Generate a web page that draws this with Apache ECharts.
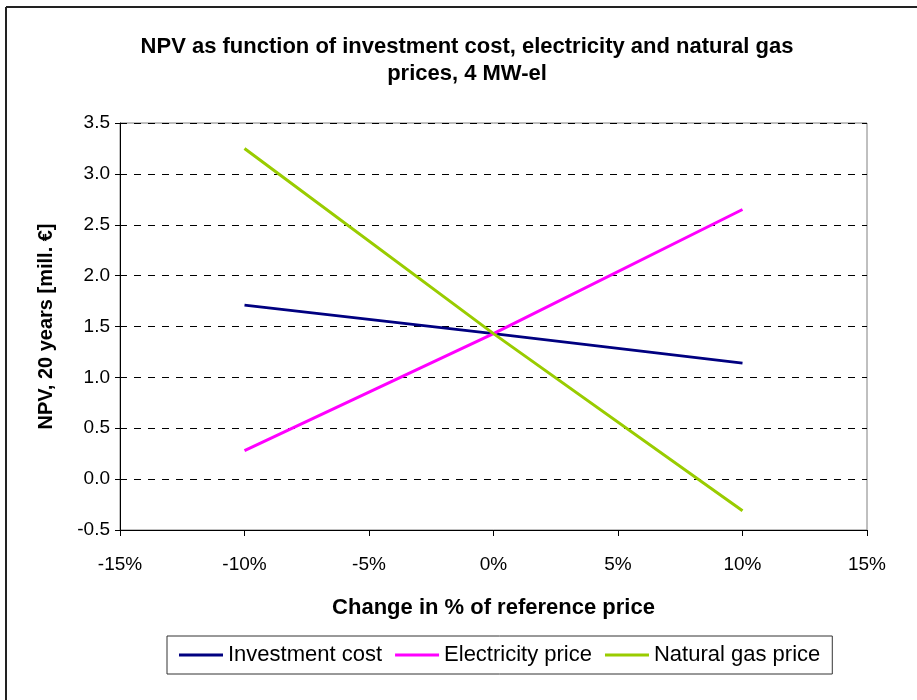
<!DOCTYPE html>
<html>
<head>
<meta charset="utf-8">
<script src="https://cdn.jsdelivr.net/npm/echarts@6/dist/echarts.min.js"></script>
<style>
  html, body { margin: 0; padding: 0; background: #fff; }
  #chart { width: 917px; height: 700px; }
</style>
</head>
<body>
<div id="chart"></div>
<script>
// values
var changePct = [-10, 0, 10];
var investmentCost = [1.71, 1.43, 1.14];
var electricityPrice = [0.28, 1.43, 2.65];
var naturalGasPrice = [3.25, 1.43, -0.31];
var seriesNames = ['Investment cost', 'Electricity price', 'Natural gas price'];
var seriesColors = ['#000080', '#FF00FF', '#99CC00'];

function pairs(xs, ys) {
    return xs.map(function (x, i) { return [x, ys[i]]; });
}

var myChart = echarts.init(document.getElementById('chart'));
var fontName = 'Liberation Sans, Arial, sans-serif';

var option = {
    backgroundColor: '#fff',
    animation: false,
    title: {
        text: 'NPV as function of investment cost, electricity and natural gas\nprices, 4 MW-el',
        left: 462,
        textAlign: 'center',
        top: 28,
        textStyle: { fontFamily: fontName, fontWeight: 'bold', fontSize: 22, lineHeight: 27, color: '#000' }
    },
    graphic: [
        { type: 'line', shape: { x1: 6, y1: 7, x2: 6, y2: 700 }, style: { stroke: '#222', lineWidth: 2 } },
        { type: 'line', shape: { x1: 6, y1: 7, x2: 917, y2: 7 }, style: { stroke: '#222', lineWidth: 2 } }
    ],
    legend: {
        data: seriesNames,
        left: 167,
        top: 636,
        padding: [8, 12, 8, 12],
        borderColor: '#333',
        borderWidth: 1,
        borderRadius: 0,
        itemWidth: 44,
        itemHeight: 3,
        itemGap: 13,
        icon: 'rect',
        textStyle: { fontFamily: fontName, fontSize: 22, color: '#000' }
    },
    grid: {
        left: 120,
        right: 50,
        top: 123,
        bottom: 170,
        show: true,
        borderColor: '#808080',
        borderWidth: 1
    },
    xAxis: {
        type: 'value',
        min: -15,
        max: 15,
        interval: 5,
        name: 'Change in % of reference price',
        nameLocation: 'middle',
        nameGap: 67,
        nameTextStyle: { fontFamily: fontName, fontWeight: 'bold', fontSize: 22, color: '#000' },
        axisLine: { onZero: false, lineStyle: { color: '#000', width: 1 } },
        axisTick: { show: true, inside: false, length: 6, lineStyle: { color: '#000' } },
        axisLabel: { formatter: '{value}%', fontFamily: fontName, fontSize: 19, color: '#000', margin: 25 },
        splitLine: { show: false }
    },
    yAxis: {
        type: 'value',
        min: -0.5,
        max: 3.5,
        interval: 0.5,
        name: 'NPV, 20 years [mill. \u20ac]',
        nameLocation: 'middle',
        nameGap: 64,
        nameTextStyle: { fontFamily: fontName, fontWeight: 'bold', fontSize: 20, color: '#000' },
        axisLine: { show: true, onZero: false, lineStyle: { color: '#000', width: 1 } },
        axisTick: { show: true, inside: false, length: 5, lineStyle: { color: '#000' } },
        axisLabel: {
            formatter: function (v) { return v.toFixed(1); },
            fontFamily: fontName, fontSize: 19, color: '#000', margin: 10
        },
        splitLine: { show: true, lineStyle: { color: '#000', width: 1, type: [7, 7] } }
    },
    series: [
        {
            name: seriesNames[0], type: 'line', symbol: 'none',
            lineStyle: { color: seriesColors[0], width: 3 },
            itemStyle: { color: seriesColors[0] },
            data: pairs(changePct, investmentCost)
        },
        {
            name: seriesNames[1], type: 'line', symbol: 'none',
            lineStyle: { color: seriesColors[1], width: 3 },
            itemStyle: { color: seriesColors[1] },
            data: pairs(changePct, electricityPrice)
        },
        {
            name: seriesNames[2], type: 'line', symbol: 'none',
            lineStyle: { color: seriesColors[2], width: 3 },
            itemStyle: { color: seriesColors[2] },
            data: pairs(changePct, naturalGasPrice)
        }
    ]
};
myChart.setOption(option);
</script>
</body>
</html>
